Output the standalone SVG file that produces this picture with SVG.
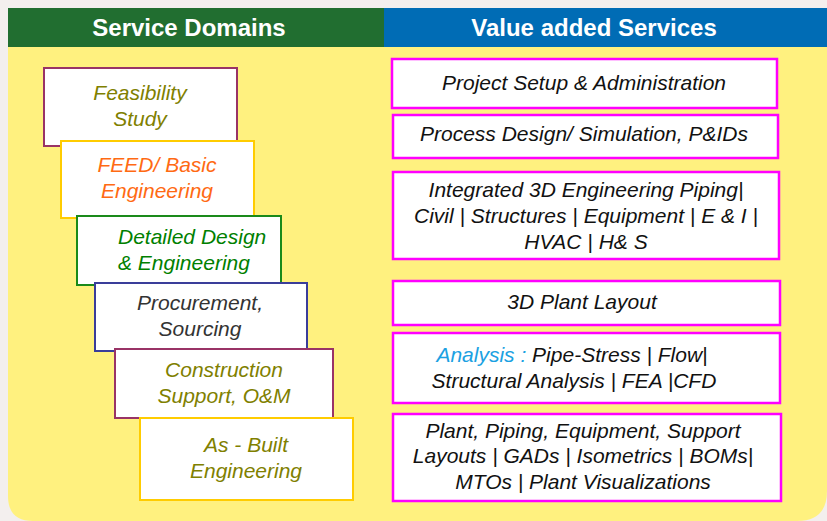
<svg xmlns="http://www.w3.org/2000/svg" width="827" height="521" viewBox="0 0 827 521">
<style>
.hd{font-family:"Liberation Sans",Arial,sans-serif;font-weight:bold;font-size:24px;fill:#fff;text-anchor:middle}
.t{font-family:"Liberation Sans",Arial,sans-serif;font-style:italic;font-size:21px;text-anchor:middle}
.lb{fill:#fff;stroke-width:2}
.rb{fill:#fff;stroke:#ff00ff;stroke-width:2.5}
.ol{fill:#808000}
.k{fill:#111}
</style>
<rect x="0" y="0" width="827" height="521" fill="#f3efee"/>
<path d="M8 47 H827 V491 Q827 521 797 521 H33 Q8 521 8 496 Z" fill="#fff17f"/>
<g id="header-left"><rect x="8" y="8" width="376" height="39" fill="#216e30"/><text class="hd" x="189" y="36">Service Domains</text></g>
<g id="header-right"><rect x="384" y="8" width="443" height="39" fill="#006cb5"/><text class="hd" x="594" y="36">Value added Services</text></g>
<g id="feasibility"><rect class="lb" x="44" y="68" width="193" height="78" stroke="#993366"/><text class="t ol" x="140" y="100">Feasibility</text><text class="t ol" x="140" y="126">Study</text></g>
<g id="feed"><rect class="lb" x="61" y="141" width="193" height="77" stroke="#ffcc00"/><text class="t" fill="#ff6a13" x="157" y="172">FEED/ Basic</text><text class="t" fill="#ff6a13" x="157" y="198">Engineering</text></g>
<g id="detailed"><rect class="lb" x="77" y="216" width="204" height="69" stroke="#1a8a1a"/><text class="t" fill="#008000" style="text-anchor:start" x="118" y="244">Detailed Design</text><text class="t" fill="#008000" style="text-anchor:start" x="118" y="270">&amp; Engineering</text></g>
<g id="procurement"><rect class="lb" x="95" y="283" width="212" height="68" stroke="#3a3d9a"/><text class="t" fill="#333" x="200" y="310">Procurement,</text><text class="t" fill="#333" x="200" y="336">Sourcing</text></g>
<g id="construction"><rect class="lb" x="115" y="349" width="218" height="69" stroke="#993366"/><text class="t ol" x="224" y="377">Construction</text><text class="t ol" x="224" y="403">Support, O&amp;M</text></g>
<g id="asbuilt"><rect class="lb" x="140" y="418" width="213" height="82" stroke="#ffcc00"/><text class="t ol" x="246" y="452">As - Built</text><text class="t ol" x="246" y="478">Engineering</text></g>
<g id="project-setup"><rect class="rb" x="392" y="59" width="385" height="49"/><text class="t k" x="584" y="90">Project Setup &amp; Administration</text></g>
<g id="process-design"><rect class="rb" x="393" y="115" width="385" height="43"/><text class="t k" x="584" y="141">Process Design/ Simulation, P&amp;IDs</text></g>
<g id="integrated-3d"><rect class="rb" x="393" y="172" width="386" height="87"/><text class="t k" x="586" y="197">Integrated 3D Engineering Piping|</text><text class="t k" x="586" y="223">Civil | Structures | Equipment | E &amp; I |</text><text class="t k" x="586" y="249">HVAC | H&amp; S</text></g>
<g id="plant-layout"><rect class="rb" x="393" y="281" width="387" height="44"/><text class="t k" x="582" y="309">3D Plant Layout</text></g>
<g id="analysis"><rect class="rb" x="393" y="333" width="387" height="70"/><text class="t k" x="572" y="362"><tspan fill="#1ba1e2">Analysis :</tspan> Pipe-Stress | Flow|</text><text class="t k" x="574" y="388">Structural Analysis | FEA |CFD</text></g>
<g id="layouts"><rect class="rb" x="393" y="414" width="388" height="87"/><text class="t k" x="583" y="438">Plant, Piping, Equipment, Support</text><text class="t k" x="583" y="463">Layouts | GADs | Isometrics | BOMs|</text><text class="t k" x="583" y="489">MTOs | Plant Visualizations</text></g>
<g id="connectors"></g>
</svg>
